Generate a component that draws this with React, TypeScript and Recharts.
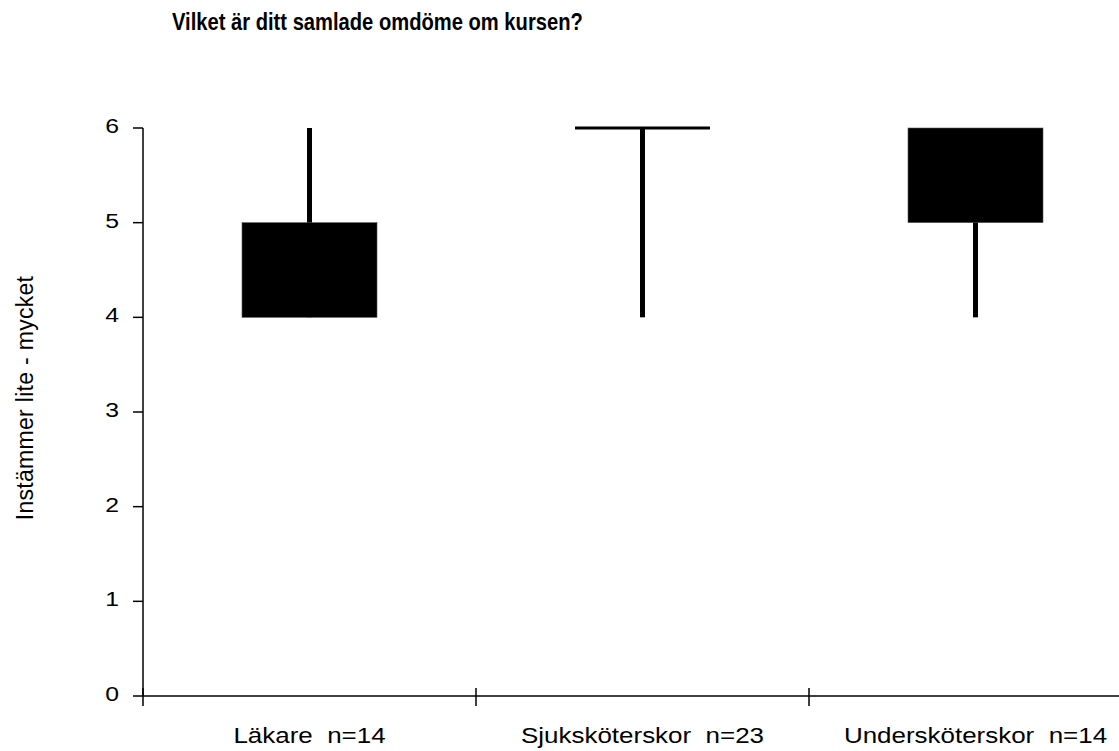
import { BarChart, Bar, XAxis, YAxis } from 'recharts';

const title = 'Vilket är ditt samlade omdöme om kursen?';
const yLabel = 'Instämmer lite - mycket';
const categories = ['Läkare  n=14', 'Sjuksköterskor  n=23', 'Undersköterskor  n=14'];
const minValues = [4, 4, 4];
const maxValues = [6, 6, 6];
const lowerValues = [4, 6, 5];
const upperValues = [5, 6, 6];
const yTicks = [0, 1, 2, 3, 4, 5, 6];

const data = categories.map((name, i) => ({
  name,
  pos: i + 0.5,
  range: [minValues[i], maxValues[i]],
  low: lowerValues[i],
  high: upperValues[i],
}));

// ticks at the category borders and at the category centres (labels)
const xTicks: number[] = [];
for (let i = 0; i <= categories.length; i++) {
  xTicks.push(i);
  if (i < categories.length) xTicks.push(i + 0.5);
}

const font = '"Liberation Sans", Arial, sans-serif';
const stretch = 1.18; // the reference text is a bit wider than plain Arial

function BoxShape(props: any) {
  const { x, y, width, height, payload } = props;
  const [min, max] = payload.range;
  const ppu = height / (max - min);
  const top = y + (max - payload.high) * ppu;
  const bottom = y + (max - payload.low) * ppu;
  const cx = x + width / 2;
  const boxH = bottom - top;
  return (
    <g>
      <rect x={cx - 2.5} y={y} width={5} height={height} fill="#000" />
      {boxH > 0 ? (
        <rect x={x} y={top} width={width} height={boxH} fill="#000" stroke="#555" strokeWidth={0.6} />
      ) : (
        <rect x={x} y={top - 1.5} width={width} height={3} fill="#000" />
      )}
    </g>
  );
}

function XTick(props: any) {
  const { x, y, payload } = props;
  const v = payload.value;
  if (Number.isInteger(v)) {
    return <line x1={x} x2={x} y1={y - 8} y2={y + 10} stroke="#000" strokeWidth={1.5} />;
  }
  return (
    <text
      transform={`translate(${x} ${y + 47}) scale(${stretch} 1)`}
      textAnchor="middle"
      fontSize={22}
      fontFamily={font}
      fill="#000"
      style={{ whiteSpace: 'pre' }}
    >
      {categories[Math.floor(v)]}
    </text>
  );
}

function YTick(props: any) {
  const { x, y, payload } = props;
  return (
    <text
      transform={`translate(${x} ${y + 5}) scale(${stretch} 1)`}
      textAnchor="end"
      fontSize={21}
      fontFamily={font}
      fill="#000"
    >
      {payload.value}
    </text>
  );
}

function YLabel(props: any) {
  const { viewBox } = props;
  const cx = 25;
  const cy = viewBox.y + viewBox.height / 2 - 14;
  return (
    <text
      x={cx}
      y={cy}
      transform={`rotate(-90 ${cx} ${cy})`}
      textAnchor="middle"
      dominantBaseline="central"
      fontSize={23}
      fontFamily={font}
      letterSpacing={0.3}
      fill="#000"
    >
      {yLabel}
    </text>
  );
}

export default function App() {
  return (
    <div style={{ position: 'absolute', left: 0, top: 0, width: 1119, height: 751, overflow: 'hidden', background: '#fff' }}>
      <div
        style={{
          position: 'absolute',
          left: 172,
          top: 10,
          fontFamily: font,
          fontWeight: 'bold',
          fontSize: 24,
          lineHeight: '24px',
          whiteSpace: 'nowrap',
          color: '#000',
          transform: 'scaleX(0.84)',
          transformOrigin: 'left top',
        }}
      >
        {title}
      </div>
      <BarChart
        width={1150}
        height={751}
        data={data}
        margin={{ top: 128, right: 8, bottom: 0, left: 0 }}
      >
        <XAxis
          dataKey="pos"
          type="number"
          domain={[0, categories.length]}
          ticks={xTicks}
          interval={0}
          height={55}
          axisLine={{ stroke: '#000', strokeWidth: 1.5 }}
          tickLine={false}
          tickSize={0}
          tickMargin={0}
          tick={<XTick />}
        />
        <YAxis
          domain={[0, 6]}
          ticks={yTicks}
          interval={0}
          width={143}
          axisLine={{ stroke: '#000', strokeWidth: 1.5 }}
          tickLine={{ stroke: '#000', strokeWidth: 1.5 }}
          tickSize={10}
          tickMargin={14}
          tick={<YTick />}
          label={<YLabel />}
        />
        <Bar dataKey="range" barSize={135} shape={<BoxShape />} isAnimationActive={false} />
      </BarChart>
    </div>
  );
}
